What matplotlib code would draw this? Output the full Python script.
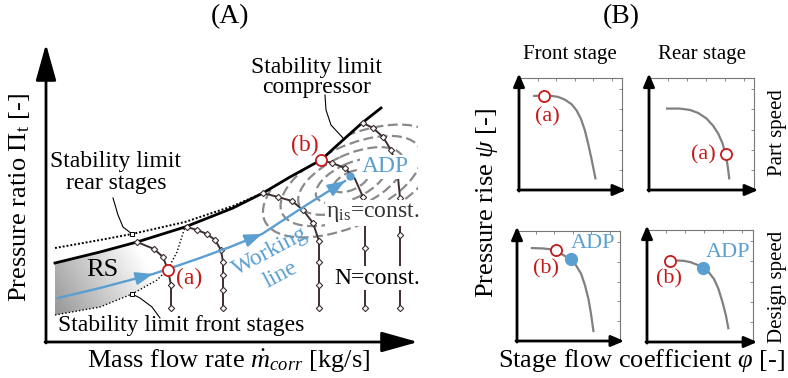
import numpy as np
import matplotlib
matplotlib.use('Agg')
import matplotlib.pyplot as plt
from matplotlib.patches import Ellipse, Polygon

plt.rcParams['font.family'] = ['Liberation Serif', 'DejaVu Serif']
plt.rcParams['mathtext.fontset'] = 'custom'
plt.rcParams['mathtext.rm'] = 'Liberation Serif'
plt.rcParams['mathtext.it'] = 'Liberation Serif:italic'
plt.rcParams['mathtext.bf'] = 'Liberation Serif:bold'

# ---------------- Panel A data (schematic map, drawing coordinates) ----------------
comp_limit_x = [55, 100, 137, 185, 233, 263, 290, 321, 343, 362, 381]
comp_limit_y = [263, 252, 242, 227, 208, 193, 177, 160, 140, 123, 108]
rear_limit_x = [55, 100, 132, 185, 233, 263]
rear_limit_y = [248, 240, 234, 222, 206, 193]
front_limit_x = [55, 100, 132, 157, 168, 177, 185]
front_limit_y = [315, 307, 294, 280, 269, 252, 227]

speed1_x = [137, 154, 163, 168, 171, 171]
speed1_y = [242, 249, 257, 270, 285, 308]
speed2_x = [187, 197, 207, 215, 221, 223, 223, 223, 223]
speed2_y = [227, 230, 234, 240, 250, 262, 275, 290, 308]
speed3_x = [263, 278, 292, 303, 313, 319, 319, 319, 319]
speed3_y = [193, 197, 201, 210, 223, 241, 262, 285, 308]
speed4_x = [321, 332, 345, 355, 363, 365, 365, 365]
speed4_y = [160, 163, 168, 179, 197, 215, 248, 308]
speed5_x = [363, 373, 383, 391, 397, 400, 400, 400]
speed5_y = [123, 128, 137, 150, 167, 198, 235, 308]
speed_lines = [(speed1_x, speed1_y, [0, 1, 2, 4, 5]),
               (speed2_x, speed2_y, list(range(9))),
               (speed3_x, speed3_y, list(range(9))),
               (speed4_x, speed4_y, [1, 2, 4, 6, 7]),
               (speed5_x, speed5_y, [0, 1, 2, 3, 5, 6, 7])]

work_x = [58, 100, 153, 168, 200, 230, 262, 285, 308, 345]
work_y = [298, 288, 274, 269, 258, 247, 234, 219, 204, 181]

eff_center = (351, 181)
eff_semi_major = [19, 38, 57, 76, 95]
eff_ratio = 0.46
eff_angle = -25

point_a = (168, 270)
point_b = (321, 160)
point_adp = (350, 176)

# ---------------- Panel B data (normalised stage characteristics) ----------------
tl_x = [0.148, 0.242, 0.316, 0.381, 0.445, 0.510, 0.558, 0.600, 0.639, 0.671, 0.703, 0.742]
tl_y = [0.840, 0.843, 0.840, 0.831, 0.807, 0.766, 0.712, 0.638, 0.534, 0.415, 0.282, 0.104]
tr_x = [0.172, 0.293, 0.389, 0.468, 0.548, 0.611, 0.659, 0.701, 0.729, 0.748, 0.764]
tr_y = [0.727, 0.727, 0.715, 0.688, 0.638, 0.573, 0.504, 0.415, 0.318, 0.223, 0.104]
bl_x = [0.145, 0.258, 0.339, 0.403, 0.468, 0.526, 0.574, 0.623, 0.661, 0.694, 0.719, 0.742]
bl_y = [0.845, 0.841, 0.832, 0.808, 0.771, 0.738, 0.686, 0.610, 0.503, 0.381, 0.244, 0.091]
br_x = [0.270, 0.345, 0.409, 0.473, 0.530, 0.585, 0.633, 0.674, 0.712, 0.744, 0.767]
br_y = [0.728, 0.725, 0.713, 0.690, 0.664, 0.620, 0.561, 0.474, 0.357, 0.240, 0.123]

tl_open = (0.242, 0.840)
tr_open = (0.729, 0.318)
bl_open = (0.381, 0.823)
bl_adp = (0.526, 0.744)
br_open = (0.217, 0.722)
br_adp = (0.530, 0.664)

BLUE = '#5b9fd0'
RED = '#c41a1a'
SPEED = '#3d2f2f'
GRAY = '#808080'

fig = plt.figure(figsize=(7.88, 3.78), dpi=100)
ax = fig.add_axes([0, 0, 1, 1])
ax.set_xlim(0, 788)
ax.set_ylim(378, 0)
ax.axis('off')

# axes arrows panel A
arrow_kw = dict(arrowstyle='-|>,head_length=1.5,head_width=0.42', color='black', lw=2.0,
                mutation_scale=15, shrinkA=0, shrinkB=0)
ax.annotate('', xy=(46, 44), xytext=(46, 343), arrowprops=arrow_kw)
ax.annotate('', xy=(418, 342), xytext=(45, 342), arrowprops=arrow_kw)

# RS shaded region (gradient)
xs = np.linspace(50, 190, 200)
ys = np.linspace(215, 320, 200)
X, Y = np.meshgrid(xs, ys)
G = np.clip(0.6 + 0.33 * (X - 55) / 100 + 0.1 * (310 - Y) / 50, 0, 1)
im = ax.imshow(G, cmap='gray', vmin=0, vmax=1, extent=[50, 190, 320, 215], origin='upper',
               aspect='auto', zorder=1, interpolation='bilinear')
i185 = comp_limit_x.index(185)
poly_pts = list(zip(comp_limit_x[:i185 + 1], comp_limit_y[:i185 + 1])) + \
    list(zip(front_limit_x[::-1], front_limit_y[::-1]))
clip_poly = Polygon(poly_pts, closed=True, transform=ax.transData, facecolor='none', edgecolor='none')
ax.add_patch(clip_poly)
im.set_clip_path(clip_poly)

# efficiency ellipses, clipped below compressor stability limit
i233 = comp_limit_x.index(233)
ell_clip_pts = list(zip(comp_limit_x[i233:], comp_limit_y[i233:])) + [(420, 75), (418, 75), (418, 330), (233, 330)]
ell_clip = Polygon(ell_clip_pts, closed=True, transform=ax.transData, facecolor='none', edgecolor='none')
ax.add_patch(ell_clip)
for a in eff_semi_major:
    e = Ellipse(eff_center, 2 * a, 2 * a * eff_ratio, angle=eff_angle, fill=False,
                edgecolor='#8a8a8a', lw=1.6, linestyle=(0, (4.5, 2.0)), zorder=2)
    ax.add_patch(e)
    e.set_clip_path(ell_clip)

# stability limits
ax.plot(rear_limit_x, rear_limit_y, color='black', lw=1.4, ls=(0, (1, 1.0)), zorder=3)
ax.plot(front_limit_x, front_limit_y, color='black', lw=1.0, ls=(0, (1, 1.5)), zorder=3)
ax.plot(comp_limit_x, comp_limit_y, color='black', lw=2.0, zorder=4)

# speed lines
for sx, sy, mk in speed_lines:
    ax.plot(sx, sy, color=SPEED, lw=1.4, marker='D', markersize=3.2, markevery=mk,
            markerfacecolor='white', markeredgecolor=SPEED, markeredgewidth=0.8, zorder=5)

# working line with arrows
ax.plot(work_x, work_y, color=BLUE, lw=1.7, zorder=6)
wa = dict(arrowstyle='-|>,head_length=0.75,head_width=0.28', color=BLUE, lw=1.5,
          mutation_scale=14, shrinkA=0, shrinkB=0)
for i in [2, 6, 9]:
    ax.annotate('', xy=(work_x[i], work_y[i]),
                xytext=(work_x[i] - 0.3 * (work_x[i] - work_x[i - 1]), work_y[i] - 0.3 * (work_y[i] - work_y[i - 1])),
                arrowprops=wa, zorder=6)

# operating points
ax.plot(*point_a, marker='o', ms=8, mfc='white', mec=RED, mew=1.3, zorder=7)
ax.plot(*point_b, marker='o', ms=8, mfc='white', mec=RED, mew=1.3, zorder=7)
ax.plot(*point_adp, marker='o', ms=5, color=BLUE, zorder=7)

# leader lines
lead_comp_x = [325, 326, 331, 343]
lead_comp_y = [95, 110, 125, 138]
lead_rear_x = [113, 118, 123, 132]
lead_rear_y = [198, 215, 227, 234]
lead_front_x = [160, 152, 140, 132]
lead_front_y = [318, 307, 298, 294]
ax.plot(lead_comp_x, lead_comp_y, color='black', lw=0.8, zorder=4)
ax.plot(lead_rear_x, lead_rear_y, color='black', lw=0.8, zorder=4)
ax.plot(lead_rear_x[-1], lead_rear_y[-1], marker='s', ms=2.5, mfc='white', mec='black', mew=0.7, zorder=5)
ax.plot(lead_front_x, lead_front_y, color='black', lw=0.8, zorder=4)
ax.plot(lead_front_x[-1], lead_front_y[-1], marker='s', ms=2.5, mfc='white', mec='black', mew=0.7, zorder=5)

# panel A texts
T = dict(ha='center', va='center')
bb = dict(boxstyle='square,pad=0.05', facecolor='white', edgecolor='none')
ax.text(230, 17, '(A)', fontsize=20, **T)
ax.text(20, 198, r'Pressure ratio $\Pi_{\mathrm{t}}$ [-]', fontsize=19, rotation=90, **T)
ax.text(229, 361, r'Mass flow rate $\dot{m}_{corr}$ [kg/s]', fontsize=19, **T)
ax.text(317, 67, 'Stability limit', fontsize=17, **T)
ax.text(317, 88, 'compressor', fontsize=17, **T)
ax.text(116, 162, 'Stability limit', fontsize=17, **T)
ax.text(116, 184, 'rear stages', fontsize=17, **T)
ax.text(181, 326, 'Stability limit front stages', fontsize=17, **T)
ax.text(102, 270, 'RS', fontsize=19, **T)
ax.text(189, 278, '(a)', fontsize=17, color=RED, **T)
ax.text(305, 145, '(b)', fontsize=17, color=RED, **T)
ax.text(385, 167, 'ADP', fontsize=17, color=BLUE, zorder=8, bbox=bb, **T)
ax.text(373, 213, r'$\mathrm{η}_{\mathrm{is}}$=const.', fontsize=17, color='#333333', zorder=8, bbox=bb, **T)
ax.text(377, 278, 'N=const.', fontsize=17, zorder=8, bbox=bb, **T)
ax.text(270, 251, 'Working', fontsize=17, color=BLUE, rotation=28, zorder=6, **T)
ax.text(281, 275, 'line', fontsize=17, color=BLUE, rotation=28, **T)

# ---------------- Panel B ----------------
ax.text(621, 17, '(B)', fontsize=20, **T)
ax.text(570, 54, 'Front stage', fontsize=15, **T)
ax.text(702, 54, 'Rear stage', fontsize=15, **T)
ax.text(487, 203, r'Pressure rise $ψ$ [-]', fontsize=19, rotation=90, **T)
ax.text(641, 360, r'Stage flow coefficient $φ$ [-]', fontsize=19, **T)
ax.text(778, 133, 'Part speed', fontsize=15, rotation=90, **T)
ax.text(778, 287, 'Design speed', fontsize=15, rotation=90, **T)

W, H = 788.0, 378.0
boxes = {
    'tl': (519, 622, 78, 190),
    'tr': (649, 754, 78, 190),
    'bl': (517, 620, 231, 341),
    'br': (647, 753, 230, 342),
}
sub = {}
for k, (x0, x1, y0, y1) in boxes.items():
    a = fig.add_axes([x0 / W, 1 - y1 / H, (x1 - x0) / W, (y1 - y0) / H])
    a.set_xlim(0, 1)
    a.set_ylim(0, 1)
    a.patch.set_alpha(0)
    for s in ['top', 'right']:
        a.spines[s].set_color('#777777')
        a.spines[s].set_linewidth(0.8)
    for s in ['left', 'bottom']:
        a.spines[s].set_visible(False)
    a.tick_params(axis='both', which='both', direction='in', length=2, width=0.6, color='#777777',
                  top=True, right=True, bottom=False, left=False, labelbottom=False, labelleft=False)
    a.set_xticks([0.18, 0.36, 0.54, 0.72, 0.9])
    a.set_yticks([0.18, 0.36, 0.54, 0.72, 0.9])
    akw = dict(arrowstyle='-|>,head_length=0.7,head_width=0.3', color='black', lw=2.0,
               mutation_scale=11, shrinkA=0, shrinkB=0)
    a.annotate('', xy=(0, 1.04), xytext=(0, -0.01), xycoords='axes fraction', arrowprops=akw, annotation_clip=False)
    a.annotate('', xy=(1.04, 0), xytext=(-0.01, 0), xycoords='axes fraction', arrowprops=akw, annotation_clip=False)
    sub[k] = a

sub['tl'].plot(tl_x, tl_y, color=GRAY, lw=1.6)
sub['tr'].plot(tr_x, tr_y, color=GRAY, lw=1.6)
sub['bl'].plot(bl_x, bl_y, color=GRAY, lw=1.6)
sub['br'].plot(br_x, br_y, color=GRAY, lw=1.6)

ok = dict(marker='o', ms=8, mfc='white', mec=RED, mew=1.3, clip_on=False, zorder=5)
ak = dict(marker='o', ms=8.5, color=BLUE, clip_on=False, zorder=5)
sub['tl'].plot(*tl_open, **ok)
sub['tr'].plot(*tr_open, **ok)
sub['bl'].plot(*bl_open, **ok)
sub['bl'].plot(*bl_adp, **ak)
sub['br'].plot(*br_open, **ok)
sub['br'].plot(*br_adp, **ak)

sub['tl'].text(0.274, 0.653, '(a)', fontsize=16, color=RED, **T)
sub['tr'].text(0.516, 0.318, '(a)', fontsize=16, color=RED, **T)
sub['bl'].text(0.284, 0.655, '(b)', fontsize=16, color=RED, **T)
sub['bl'].text(0.742, 0.890, 'ADP', fontsize=16, color=BLUE, **T)
sub['br'].text(0.211, 0.561, '(b)', fontsize=16, color=RED, **T)
sub['br'].text(0.760, 0.795, 'ADP', fontsize=16, color=BLUE, **T)

fig.savefig('out.png', dpi=100)
